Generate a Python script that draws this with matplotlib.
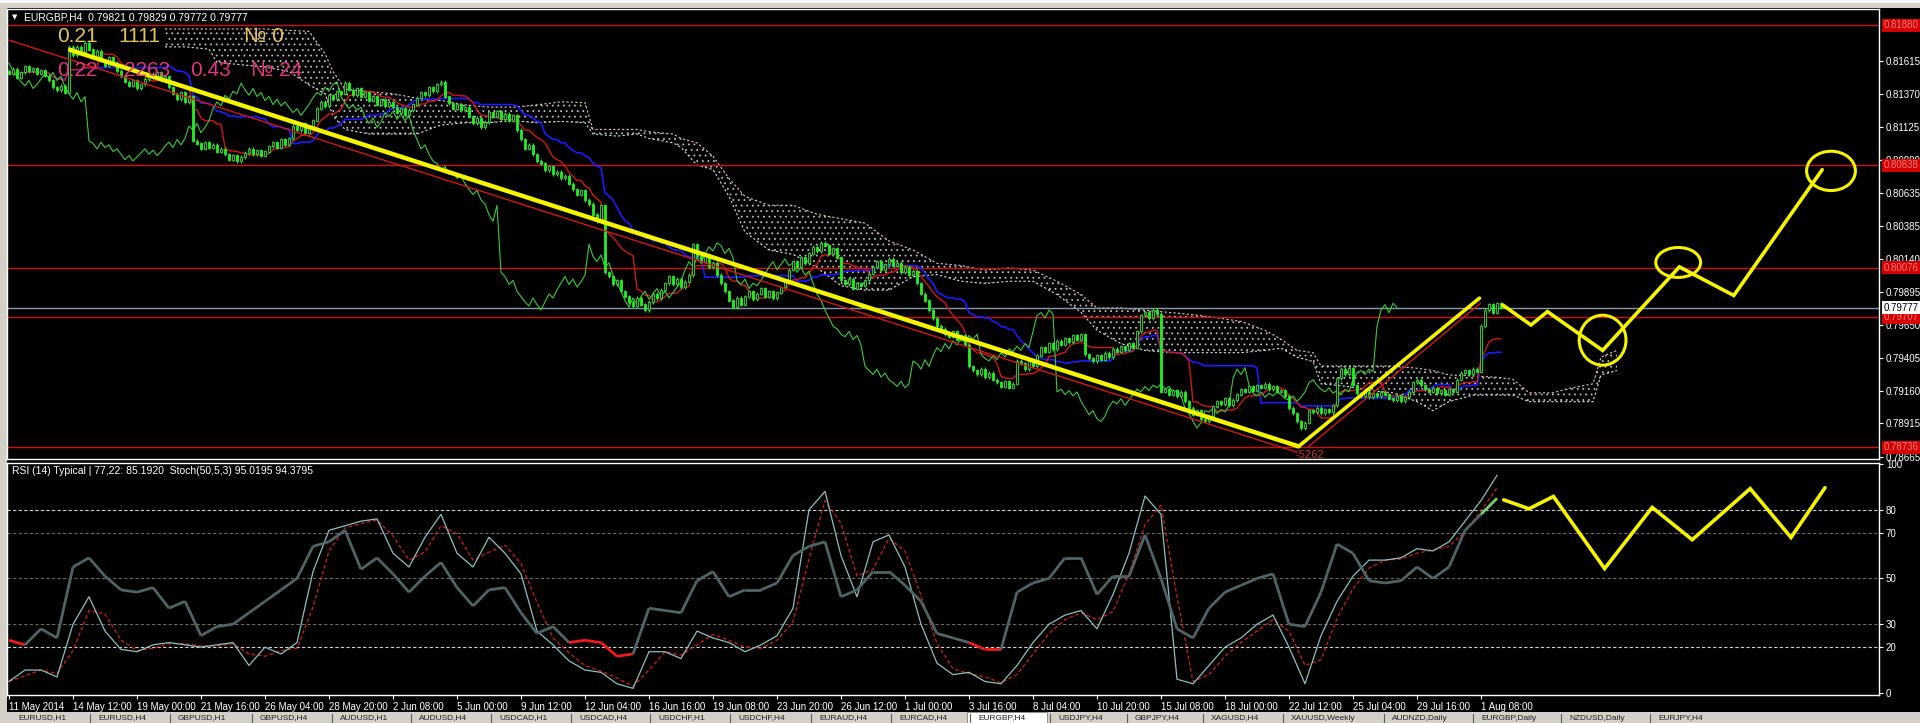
import numpy as np
import pandas as pd
import matplotlib
matplotlib.use("Agg")
import matplotlib.pyplot as plt
from matplotlib.patches import Ellipse, Rectangle
from matplotlib.collections import LineCollection

W, H = 1920, 723

# H4 closes, one per bar
closes = [
    0.81520, 0.81555, 0.81490, 0.81530, 0.81575, 0.81540, 0.81560, 0.81520, 0.81545, 0.81505,
    0.81470, 0.81420, 0.81395, 0.81430, 0.81380,
    0.81720,
    0.81660, 0.81720, 0.81680, 0.81750, 0.81700, 0.81640, 0.81690,
    0.81620, 0.81580, 0.81640, 0.81600, 0.81540, 0.81500,
    0.81460, 0.81430, 0.81470, 0.81410, 0.81440, 0.81480,
    0.81520, 0.81490, 0.81530, 0.81470, 0.81500, 0.81420,
    0.81370, 0.81330, 0.81380, 0.81310, 0.81350,
    0.81020,
    0.81000, 0.80960, 0.81010, 0.80970, 0.80990, 0.80940, 0.80960,
    0.80920, 0.80880, 0.80910, 0.80870, 0.80900, 0.80930,
    0.80960, 0.80920, 0.80950, 0.80910, 0.80940, 0.80980,
    0.81010, 0.80970, 0.81030, 0.80990, 0.81040, 0.81130,
    0.81100, 0.81150, 0.81080, 0.81120, 0.81170, 0.81260,
    0.81310, 0.81280, 0.81360, 0.81330, 0.81390, 0.81370,
    0.81450, 0.81400, 0.81360, 0.81410, 0.81350, 0.81380, 0.81320,
    0.81350, 0.81290, 0.81330, 0.81280, 0.81310, 0.81270,
    0.81230, 0.81260, 0.81210, 0.81250, 0.81290, 0.81340, 0.81380,
    0.81360, 0.81420, 0.81390, 0.81440, 0.81460, 0.81350,
    0.81300, 0.81260, 0.81290, 0.81250, 0.81270,
    0.81200, 0.81150, 0.81190, 0.81120, 0.81160, 0.81230,
    0.81200, 0.81240, 0.81180, 0.81220, 0.81170, 0.81210, 0.81100,
    0.81030, 0.80960, 0.80990, 0.80920, 0.80870,
    0.80850, 0.80800, 0.80830, 0.80770, 0.80790, 0.80740, 0.80760,
    0.80700, 0.80660, 0.80620, 0.80650, 0.80580, 0.80550,
    0.80470, 0.80420, 0.80540,
    0.80040,
    0.80010, 0.79950, 0.79980, 0.79900, 0.79860, 0.79820, 0.79790, 0.79850, 0.79800,
    0.79760, 0.79820, 0.79880, 0.79850, 0.79910, 0.79960,
    0.80010, 0.79950, 0.79990, 0.79930, 0.79970, 0.80020,
    0.80250, 0.80160, 0.80120, 0.80170, 0.80080, 0.80110, 0.80020,
    0.79960, 0.79900, 0.79830, 0.79780, 0.79850, 0.79800, 0.79860,
    0.79900, 0.79840, 0.79880, 0.79920, 0.79860, 0.79900, 0.79850, 0.79890, 0.79930, 0.79970,
    0.80060, 0.80120, 0.80080, 0.80150, 0.80110, 0.80180, 0.80230,
    0.80200, 0.80260, 0.80240, 0.80180, 0.80220, 0.80150,
    0.79980, 0.79950, 0.79990, 0.79920, 0.79960, 0.79940, 0.79980, 0.80030,
    0.80080, 0.80120, 0.80060, 0.80100, 0.80140, 0.80090,
    0.80110, 0.80040, 0.80080, 0.80020, 0.80050, 0.79960,
    0.79880, 0.79830, 0.79760, 0.79700, 0.79640, 0.79620,
    0.79580, 0.79560, 0.79600, 0.79540, 0.79570, 0.79500,
    0.79340, 0.79310, 0.79280, 0.79320, 0.79260, 0.79290, 0.79240,
    0.79220, 0.79190, 0.79230, 0.79180, 0.79210,
    0.79380, 0.79360, 0.79320, 0.79390, 0.79340, 0.79420,
    0.79480, 0.79450, 0.79510, 0.79470, 0.79530, 0.79500,
    0.79550, 0.79520, 0.79570, 0.79540, 0.79580, 0.79430,
    0.79400, 0.79380, 0.79420, 0.79390, 0.79440, 0.79410,
    0.79470, 0.79450, 0.79490, 0.79460, 0.79510, 0.79480, 0.79600,
    0.79720, 0.79740, 0.79700, 0.79760, 0.79730, 0.79150,
    0.79170, 0.79130, 0.79160, 0.79120, 0.79150, 0.79080,
    0.79030, 0.78980, 0.79010, 0.78950, 0.78930, 0.78970, 0.79040,
    0.79080, 0.79060, 0.79100, 0.79050, 0.79090, 0.79130,
    0.79170, 0.79150, 0.79190, 0.79160, 0.79200, 0.79180, 0.79210, 0.79170, 0.79190, 0.79150, 0.79160,
    0.79120, 0.79030, 0.78990, 0.78930, 0.78880, 0.78920, 0.79010,
    0.79000, 0.79030, 0.78990, 0.79020, 0.79000, 0.79050,
    0.79250, 0.79320, 0.79280, 0.79330, 0.79200, 0.79140,
    0.79120, 0.79150, 0.79110, 0.79140, 0.79120, 0.79150, 0.79130,
    0.79100, 0.79090, 0.79120, 0.79080, 0.79110, 0.79150,
    0.79220, 0.79240, 0.79200, 0.79170,
    0.79150, 0.79180, 0.79140, 0.79160, 0.79130, 0.79170, 0.79150, 0.79240,
    0.79290, 0.79310, 0.79280, 0.79320, 0.79300, 0.79640,
    0.79760, 0.79800, 0.79740, 0.79810, 0.79777,
]

# Ichimoku cloud edges (bar, upper, lower)
cloud_bars = [39, 44, 50, 52, 58, 64, 70, 75, 79, 81, 84, 90, 96, 102, 108, 114, 120, 126,
              132, 138, 144, 146, 152, 157, 160, 166, 168, 172, 176, 180, 184, 190, 196,
              202, 208, 214, 220, 226, 232, 238, 244, 250, 256, 262, 268, 272, 278, 284,
              290, 296, 302, 308, 314, 318, 322, 326, 328, 334, 340, 346, 352, 356, 360,
              366, 372, 376, 380, 386, 390, 396, 398, 402]
cloud_top = [0.81853, 0.81853, 0.81853, 0.81853, 0.81853, 0.81853, 0.81843, 0.81836, 0.81670,
             0.81537, 0.81404, 0.81387, 0.81371, 0.81337, 0.81321, 0.81288, 0.81271, 0.81271,
             0.81288, 0.81311, 0.81304, 0.81105, 0.81105, 0.81105, 0.81088, 0.81071, 0.81038,
             0.81005, 0.80905, 0.80739, 0.80606, 0.80540, 0.80540, 0.80473, 0.80440, 0.80407,
             0.80274, 0.80207, 0.80108, 0.80091, 0.80057, 0.80074, 0.80057, 0.79974, 0.79875,
             0.79775, 0.79775, 0.79758, 0.79742, 0.79725, 0.79702, 0.79675, 0.79609, 0.79542,
             0.79459, 0.79442, 0.79343, 0.79343, 0.79343, 0.79343, 0.79326, 0.79309, 0.79276,
             0.79269, 0.79259, 0.79243, 0.79143, 0.79143, 0.79176, 0.79210, 0.79409, 0.79459]
cloud_bottom = [0.81720, 0.81720, 0.81703, 0.81604, 0.81587, 0.81570, 0.81537, 0.81437, 0.81371,
                0.81205, 0.81105, 0.81071, 0.81071, 0.81071, 0.81138, 0.81155, 0.81155, 0.81171,
                0.81155, 0.81165, 0.81155, 0.81071, 0.81055, 0.81071, 0.81038, 0.81005, 0.80972,
                0.80839, 0.80806, 0.80606, 0.80340, 0.80207, 0.80174, 0.80074, 0.79941, 0.79908,
                0.79908, 0.80008, 0.80024, 0.79974, 0.79958, 0.79974, 0.79974, 0.79875, 0.79742,
                0.79609, 0.79509, 0.79459, 0.79442, 0.79442, 0.79442, 0.79442, 0.79459, 0.79476,
                0.79409, 0.79376, 0.79210, 0.79193, 0.79160, 0.79143, 0.79077, 0.79010, 0.79077,
                0.79126, 0.79126, 0.79126, 0.79077, 0.79077, 0.79077, 0.79077, 0.79276, 0.79309]

red_levels = [0.81880, 0.80838, 0.80076, 0.79707, 0.78736]
bid_price = 0.79777

price_ticks = [0.81615, 0.81370, 0.81125, 0.80880, 0.80635, 0.80385, 0.80140,
               0.79895, 0.79650, 0.79405, 0.79160, 0.78915, 0.78665]

# hand drawn yellow marks
down_line_bars = [15.3, 322.4]
down_line_prices = [0.81697, 0.78744]
up_line_bars = [322.4, 367.6]
up_line_prices = [0.78744, 0.79848]
red_down_bars = [0, 322]
red_down_prices = [0.81770, 0.78700]
red_up_bars = [324.9, 367.8]
red_up_prices = [0.78744, 0.79808]
plan_bars = [373.4, 380.5, 384.6, 398.4, 417.6, 431.2, 453.3]
plan_prices = [0.79798, 0.79648, 0.79748, 0.79459, 0.80081, 0.79868, 0.80805]
ring_bars = [398.4, 417.3, 455.5]
ring_prices = [0.79535, 0.80114, 0.80796]
ring_w = [11.7, 11.2, 12.2]
ring_h = [0.00372, 0.00223, 0.00293]

# oscillator window, one reading every 4 bars
rsi_values = [
    23, 21, 28, 24, 55, 59, 51, 45, 44, 46, 37, 40, 25, 29, 30, 35, 40, 45, 50, 64,
    66, 71, 54, 59, 52, 44, 51, 57, 46, 38, 45, 46, 35, 26, 29, 22, 23, 22, 16, 17,
    37, 36, 35, 49, 53, 42, 45, 45, 48, 60, 64, 66, 42, 45, 53, 53, 47, 40, 26, 24,
    22, 19, 19, 44, 48, 50, 59, 59, 43, 51, 51, 69, 50, 28, 24, 37, 44, 47, 50, 52,
    30, 29, 44, 65, 61, 49, 48, 49, 55, 50, 55, 71, 78, 85,
]
stoch_values = [
    5, 10, 10, 7, 30, 42, 27, 19, 18, 21, 22, 21, 20, 21, 22, 12, 20, 17, 22, 53,
    71, 73, 75, 76, 61, 55, 68, 78, 61, 55, 68, 61, 52, 27, 21, 14, 10, 9, 4, 2,
    18, 18, 15, 27, 24, 22, 18, 21, 25, 37, 80, 88, 60, 42, 66, 69, 55, 30, 13, 8,
    9, 5, 4, 12, 22, 30, 34, 36, 28, 43, 61, 86, 78, 6, 4, 12, 20, 24, 30, 34,
    20, 4, 25, 40, 51, 58, 58, 59, 63, 62, 66, 75, 84, 95,
]
rsi_plan_bars = [373.7, 380.0, 386.1, 398.9, 410.8, 420.8, 435.3, 445.5, 454.0]
rsi_plan_values = [84.3, 80.4, 85.8, 54.3, 81.0, 66.9, 89.2, 67.9, 89.6]
rsi_levels = [80, 70, 50, 30, 20]
rsi_ticks = [100, 80, 70, 50, 30, 20, 0]

date_labels = ["11 May 2014", "14 May 12:00", "19 May 00:00", "21 May 16:00", "26 May 04:00",
               "28 May 20:00", "2 Jun 08:00", "5 Jun 00:00", "9 Jun 12:00", "12 Jun 04:00",
               "16 Jun 16:00", "19 Jun 08:00", "23 Jun 20:00", "26 Jun 12:00", "1 Jul 00:00",
               "3 Jul 16:00", "8 Jul 04:00", "10 Jul 20:00", "15 Jul 08:00", "18 Jul 00:00",
               "22 Jul 12:00", "25 Jul 04:00", "29 Jul 16:00", "1 Aug 08:00"]

tab_names = ["EURUSD,H1", "EURUSD,H4", "GBPUSD,H1", "GBPUSD,H4", "AUDUSD,H1", "AUDUSD,H4",
             "USDCAD,H1", "USDCAD,H4", "USDCHF,H1", "USDCHF,H4", "EURAUD,H4", "EURCAD,H4",
             "EURGBP,H4", "USDJPY,H4", "GBPJPY,H4", "XAGUSD,H4", "XAUUSD,Weekly",
             "AUDNZD,Daily", "EURGBP,Daily", "NZDUSD,Daily", "EURJPY,H4"]
tab_x = [18, 98, 178, 260, 340, 419, 499, 579, 658, 738, 819, 899,
         978, 1058, 1135, 1211, 1291, 1392, 1481, 1569, 1658]

plt.rcParams["font.family"] = ["Liberation Sans", "DejaVu Sans"]
plt.rcParams["hatch.linewidth"] = 0.6


def fx(x):
    return x / W


def fy(y):
    return 1 - y / H


fig = plt.figure(figsize=(W / 100, H / 100), dpi=100)
fig.patch.set_facecolor("#d4d0c8")
fig.patches.append(Rectangle((fx(7), fy(712)), 1 - fx(7), (712 - 8) / H,
                             transform=fig.transFigure, facecolor="black", zorder=-5))
fig.patches.append(Rectangle((0, fy(3)), 1, 3 / H, transform=fig.transFigure,
                             facecolor="#f4f4f4", zorder=-5))

ax = fig.add_axes([fx(7), fy(459), 1872 / W, 450 / H])
ax2 = fig.add_axes([fx(7), fy(695), 1872 / W, 232 / H])
for a in (ax, ax2):
    a.set_facecolor("black")
    for s in a.spines.values():
        s.set_color("white")
        s.set_linewidth(1)
    a.set_xlim(-0.5, 467.5)

# --- price pane ---
c = np.array(closes)
x = np.arange(len(c))
o = np.r_[c[0] + 0.0002, c[:-1]]
lo = np.minimum(o, c)
hi = np.maximum(o, c)
up = c >= o
wick = 0.00012

ax.fill_between(cloud_bars, cloud_top, cloud_bottom, facecolor="none",
                edgecolor="#bdbdbd", hatch="...", linewidth=0, zorder=1)
ax.plot(cloud_bars, cloud_top, color="#e8c0b8", lw=0.8, ls=(0, (2, 2)), zorder=1)
ax.plot(cloud_bars, cloud_bottom, color="#dddddd", lw=0.8, ls=(0, (2, 2)), zorder=1)

s = pd.Series(c)
tenkan = (s.rolling(9, min_periods=1).max() + s.rolling(9, min_periods=1).min()) / 2
kijun = (s.rolling(26, min_periods=1).max() + s.rolling(26, min_periods=1).min()) / 2
ax.plot(x, kijun, color="#1c1cff", lw=1.2, zorder=2)
ax.plot(x, tenkan, color="#d01818", lw=1.0, zorder=2)
ax.plot(x[:-26], c[26:], color="#3cc83c", lw=0.8, zorder=2)

for lv in red_levels:
    ax.axhline(lv, color="#d01010", lw=1, zorder=1.5)
ax.axhline(bid_price, color="#8a9aa8", lw=1, zorder=1.5)

ax.vlines(x, lo - wick, hi + wick, color="#22e022", lw=0.8, zorder=3)
ax.bar(x[up], (hi - lo)[up] + 1.5e-5, bottom=lo[up], width=0.6, facecolor="black",
       edgecolor="#22ee22", linewidth=0.6, zorder=4)
ax.bar(x[~up], (hi - lo)[~up] + 1.5e-5, bottom=lo[~up], width=0.6, facecolor="#22ee22",
       edgecolor="#22ee22", linewidth=0.6, zorder=4)

ax.plot(red_down_bars, red_down_prices, color="#d01818", lw=1, zorder=4)
ax.plot(red_up_bars, red_up_prices, color="#d01818", lw=1, zorder=4)
ax.plot(down_line_bars, down_line_prices, color="#f5f500", lw=3.2, zorder=5,
        solid_capstyle="round")
ax.plot(up_line_bars, up_line_prices, color="#f5f500", lw=2.6, zorder=5,
        solid_capstyle="round")
ax.plot(plan_bars, plan_prices, color="#f5f500", lw=2.6, zorder=5,
        solid_capstyle="round", solid_joinstyle="miter")
for bx, by, bw, bh in zip(ring_bars, ring_prices, ring_w, ring_h):
    ax.add_patch(Ellipse((bx, by), bw, bh, facecolor="none", edgecolor="#f5f500",
                         lw=2.2, zorder=5))
ax.text(325.2, 0.78680, "-5262", color="#c83232", fontsize=8, ha="center",
        va="center", zorder=5)

ax.set_ylim(0.78650, 0.82002)
ax.set_xticks([])
ax.yaxis.tick_right()
ax.set_yticks(price_ticks)
ax.set_yticklabels([f"{p:.5f}" for p in price_ticks])
ax.tick_params(axis="y", colors="white", labelsize=7, length=3, pad=2, width=0.8)

for lv in red_levels:
    ax.annotate(f"{lv:.5f}", xy=(1, lv), xycoords=("axes fraction", "data"),
                xytext=(3, 0), textcoords="offset points", color="#ff7a7a",
                fontsize=7, va="center", ha="left",
                bbox=dict(boxstyle="square,pad=0.15", facecolor="#d40000",
                          edgecolor="none"), annotation_clip=False, zorder=6)
ax.annotate(f"{bid_price:.5f}", xy=(1, bid_price), xycoords=("axes fraction", "data"),
            xytext=(3, 0), textcoords="offset points", color="black", fontsize=7,
            va="center", ha="left",
            bbox=dict(boxstyle="square,pad=0.15", facecolor="white", edgecolor="none"),
            annotation_clip=False, zorder=6)

# --- oscillator pane ---
rx = np.arange(0, 4 * len(rsi_values), 4)
rsi = np.array(rsi_values, dtype=float)
stoch = np.array(stoch_values, dtype=float)
signal = pd.Series(stoch).rolling(2, min_periods=1).mean().values

for lv in rsi_levels:
    col = "#d0d0d0" if lv in (80, 20) else "#6a6a6a"
    ax2.axhline(lv, color=col, lw=0.8, ls=(0, (3, 2)), zorder=1)

ax2.plot(rx, signal, color="#d02020", lw=0.9, ls=(0, (3, 2)), zorder=2)
ax2.plot(rx, stoch, color="#8cc0c0", lw=0.9, zorder=3)
pts = np.column_stack([rx, rsi])
segs = np.stack([pts[:-1], pts[1:]], axis=1)
seg_cols = []
for a_, b_ in zip(rsi[:-1], rsi[1:]):
    if max(a_, b_) <= 23:
        seg_cols.append("#ee1c1c")
    elif min(a_, b_) >= 77:
        seg_cols.append("#70d070")
    else:
        seg_cols.append("#4f6464")
ax2.add_collection(LineCollection(segs, colors=seg_cols, linewidths=2.0, zorder=4))
ax2.plot(rsi_plan_bars, rsi_plan_values, color="#f5f500", lw=2.6, zorder=5,
         solid_capstyle="round", solid_joinstyle="miter")

ax2.set_ylim(-0.9, 100.4)
ax2.yaxis.tick_right()
ax2.set_yticks(rsi_ticks)
ax2.set_yticklabels([str(t) for t in rsi_ticks])
ax2.tick_params(axis="y", colors="white", labelsize=7, length=3, pad=2, width=0.8)
ax2.set_xticks(np.arange(0, 16 * len(date_labels), 16))
ax2.set_xticklabels(date_labels)
ax2.tick_params(axis="x", colors="white", labelsize=7, length=3, pad=2, width=0.8)
for lbl in ax2.get_xticklabels():
    lbl.set_ha("left")

# --- overlay texts ---
fig.text(fx(12), fy(17), "▼", color="white", fontsize=5, va="center",
         family=["DejaVu Sans"])
fig.text(fx(24), fy(17), "EURGBP,H4  0.79821 0.79829 0.79772 0.79777", color="white",
         fontsize=7.5, va="center")
for tx, t in zip([57, 118, 244], ["0.21", "1111", "№ 0"]):
    fig.text(fx(tx), fy(36), t, color="#e3c55a", fontsize=15, va="center", zorder=7)
for tx, t in zip([57, 124, 190, 251], ["0.22", "2263", "0.43", "№ 24"]):
    fig.text(fx(tx), fy(70), t, color="#e0357f", fontsize=15, va="center", zorder=7)
fig.text(fx(12), fy(471), "RSI (14) Typical | 77,22: 85.1920  Stoch(50,5,3) 95.0195 94.3795",
         color="white", fontsize=7.5, va="center")

# --- tab strip ---
fig.patches.append(Rectangle((0, 0), 1, fy(712), transform=fig.transFigure,
                             facecolor="#d4d0c8", zorder=-4))
fig.patches.append(Rectangle((fx(967), 0), 80 / W, 11 / H, transform=fig.transFigure,
                             facecolor="white", edgecolor="#808080", lw=0.6, zorder=-3))
for tx, name in zip(tab_x, tab_names):
    fig.text(fx(tx), fy(718), name, color="#202020", fontsize=6, va="center")
for tx in tab_x[1:]:
    fig.lines.append(plt.Line2D([fx(tx - 8), fx(tx - 8)], [0, fy(714)],
                                transform=fig.transFigure, color="#606060", lw=0.8))

fig.savefig("out.png", dpi=100, facecolor=fig.get_facecolor())
